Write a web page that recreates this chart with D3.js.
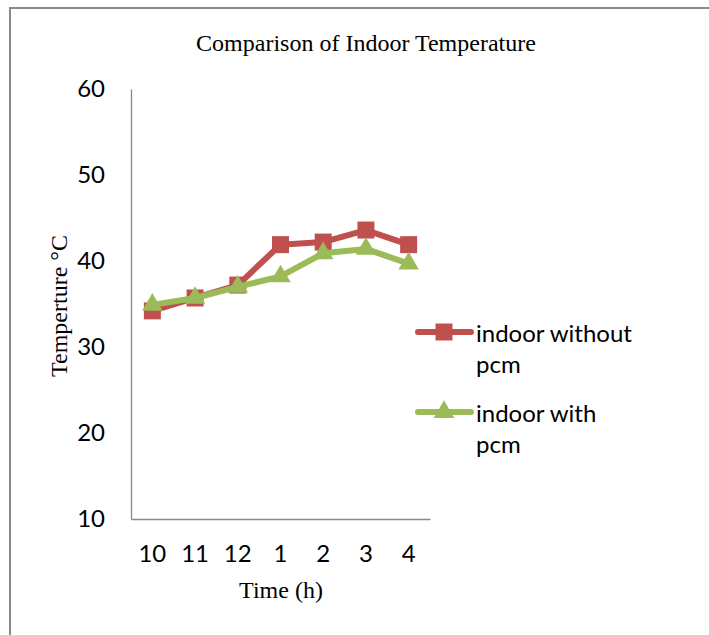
<!DOCTYPE html>
<html><head><meta charset="utf-8">
<script src="https://cdn.jsdelivr.net/npm/d3@7"></script>
<style>body{margin:0;background:#fff}svg{display:block}</style>
</head><body>
<script>
const categories = ["10","11","12","1","2","3","4"];
const withoutPcm = [34.2, 35.7, 37.2, 41.9, 42.2, 43.6, 41.9];
const withPcm = [34.9, 35.7, 37.0, 38.2, 40.9, 41.4, 39.7];
const yTicks = [10,20,30,40,50,60];
const seriesNames = [["indoor without","pcm"],["indoor with","pcm"]];

const W=709,H=635;
const svg=d3.select("body").append("svg").attr("width",W).attr("height",H);
svg.append("rect").attr("x",10).attr("y",8).attr("width",W+10).attr("height",H+10)
  .attr("fill","#fff").attr("stroke","#8a8a8a").attr("stroke-width",2);

const x=d3.scaleBand().domain(categories).range([131,430]);
const y=d3.scaleLinear().domain([10,60]).range([519,89]);

svg.append("text").attr("x",366).attr("y",51).attr("text-anchor","middle")
  .attr("font-family","Liberation Serif").attr("font-size",24).text("Comparison of Indoor Temperature");

const ya=svg.append("g").attr("transform","translate(131,0)")
  .call(d3.axisLeft(y).tickValues(yTicks).tickSize(0).tickPadding(26));
ya.select(".domain").attr("stroke","#888").attr("stroke-width",1.3);
ya.selectAll("text").attr("font-family","Lato").attr("font-size",24).attr("fill","#000");

const xa=svg.append("g").attr("transform","translate(0,519)")
  .call(d3.axisBottom(x).tickSize(0).tickPadding(26));
xa.select(".domain").attr("stroke","#888").attr("stroke-width",1.3);
xa.selectAll("text").attr("font-family","Lato").attr("font-size",24).attr("fill","#000");

svg.append("text").attr("transform","translate(67,306) rotate(-90)").attr("text-anchor","middle")
  .attr("font-family","Liberation Serif").attr("font-size",24).text("Temperture °C");
svg.append("text").attr("x",281).attr("y",598).attr("text-anchor","middle")
  .attr("font-family","Liberation Serif").attr("font-size",24).text("Time (h)");

const colors=["#C0504D","#9BBB59"];
const data=[withoutPcm,withPcm];
const line=d3.line().x((d,i)=>x(categories[i])+x.bandwidth()/2).y(d=>y(d));
const sq=d3.symbol().type(d3.symbolSquare).size(289);
const tri=d3.symbol().type(d3.symbolTriangle).size(180);
data.forEach((vals,k)=>{
  svg.append("path").datum(vals).attr("d",line).attr("fill","none")
    .attr("stroke",colors[k]).attr("stroke-width",6).attr("stroke-linejoin","round");
  svg.selectAll(null).data(vals).enter().append("path")
    .attr("d",k===0?sq:tri)
    .attr("transform",(d,i)=>`translate(${x(categories[i])+x.bandwidth()/2},${y(d)})`)
    .attr("fill",colors[k]);
});

// legend
const legY=[332,412];
seriesNames.forEach((lines,k)=>{
  const ly=legY[k];
  svg.append("line").attr("x1",418).attr("x2",471).attr("y1",ly).attr("y2",ly)
    .attr("stroke",colors[k]).attr("stroke-width",6).attr("stroke-linecap","round");
  svg.append("path").attr("d",k===0?sq:tri).attr("transform",`translate(444,${ly})`).attr("fill",colors[k]);
  lines.forEach((t,j)=>{
    svg.append("text").attr("x",476).attr("y",ly+10+j*31).attr("font-family","Lato")
      .attr("font-size",24).attr("fill","#000").text(t);
  });
});
</script>
</body></html>
